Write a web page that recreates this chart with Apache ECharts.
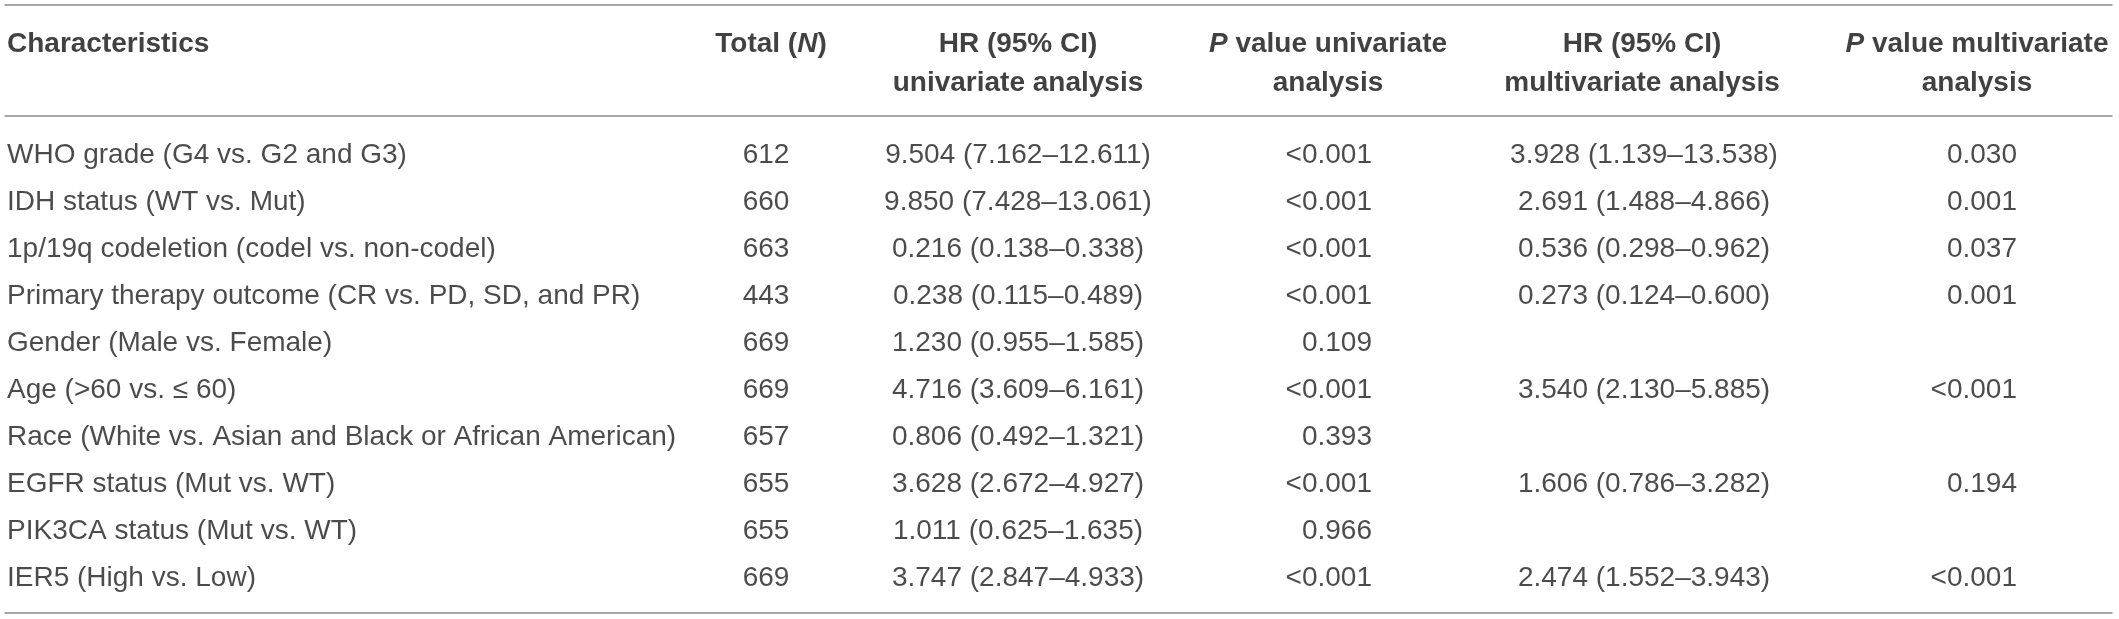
<!DOCTYPE html>
<html>
<head>
<meta charset="utf-8">
<script src="https://cdn.jsdelivr.net/npm/echarts@6/dist/echarts.min.js"></script>
<style>
  html, body { margin: 0; padding: 0; background: #fff; }
  #main { width: 2119px; height: 619px; }
</style>
</head>
<body>
<div id="main"></div>
<script>
// table content
const headers = [
  'Characteristics',
  'Total ({bi|N})',
  'HR (95% CI)\nunivariate analysis',
  '{bi|P} value univariate\nanalysis',
  'HR (95% CI)\nmultivariate analysis',
  '{bi|P} value multivariate\nanalysis'
];
const characteristics = [
  'WHO grade (G4 vs. G2 and G3)',
  'IDH status (WT vs. Mut)',
  '1p/19q codeletion (codel vs. non-codel)',
  'Primary therapy outcome (CR vs. PD, SD, and PR)',
  'Gender (Male vs. Female)',
  'Age (>60 vs. ≤ 60)',
  'Race (White vs. Asian and Black or African American)',
  'EGFR status (Mut vs. WT)',
  'PIK3CA status (Mut vs. WT)',
  'IER5 (High vs. Low)'
];
const totalN = [612, 660, 663, 443, 669, 669, 657, 655, 655, 669];
const hrUni = [
  '9.504 (7.162–12.611)', '9.850 (7.428–13.061)', '0.216 (0.138–0.338)',
  '0.238 (0.115–0.489)', '1.230 (0.955–1.585)', '4.716 (3.609–6.161)',
  '0.806 (0.492–1.321)', '3.628 (2.672–4.927)', '1.011 (0.625–1.635)',
  '3.747 (2.847–4.933)'
];
const pUni = ['<0.001', '<0.001', '<0.001', '<0.001', '0.109', '<0.001', '0.393', '<0.001', '0.966', '<0.001'];
const hrMulti = [
  '3.928 (1.139–13.538)', '2.691 (1.488–4.866)', '0.536 (0.298–0.962)',
  '0.273 (0.124–0.600)', '', '3.540 (2.130–5.885)', '', '1.606 (0.786–3.282)',
  '', '2.474 (1.552–3.943)'
];
const pMulti = ['0.030', '0.001', '0.037', '0.001', '', '<0.001', '', '0.194', '', '<0.001'];

// layout (px from table left edge)
const columns = [characteristics, totalN, hrUni, pUni, hrMulti, pMulti];
const bodyX = [2, 761, 1013, 1367, 1639, 2012];
const bodyAlign = ['left', 'center', 'center', 'right', 'center', 'right'];
const headX = [2, 766, 1013, 1323, 1637, 1972];
const headAlign = ['left', 'center', 'center', 'center', 'center', 'center'];
const headTop = 20;

const ruleStyle = { color: '#8a8a8a', width: 1.5 };
const bodyFont = { fontFamily: 'Liberation Sans', fontSize: 28, color: '#1e1e1e' };
const headFont = { fontFamily: 'Liberation Sans', fontSize: 28, fontWeight: 'bold', color: '#111', lineHeight: 39 };

const chart = echarts.init(document.getElementById('main'));

const hiddenAxis = {
  axisTick: { show: false },
  axisLabel: { show: false },
  splitLine: { show: false }
};

function rule(show) {
  return { show: show, onZero: false, lineStyle: ruleStyle };
}

const bodySeries = columns.map((col, c) => ({
  type: 'scatter',
  xAxisIndex: 1,
  yAxisIndex: 1,
  symbolSize: 0,
  itemStyle: { color: 'rgba(0,0,0,0)' },
  silent: true,
  data: col.map((v, r) => [bodyX[c], r, String(v)]),
  label: Object.assign({
    show: true,
    position: 'inside',
    align: bodyAlign[c],
    verticalAlign: 'middle',
    formatter: p => p.data[2]
  }, bodyFont)
}));

const headSeries = {
  type: 'scatter',
  xAxisIndex: 0,
  yAxisIndex: 0,
  symbolSize: 0,
  itemStyle: { color: 'rgba(0,0,0,0)' },
  silent: true,
  data: headers.map((h, c) => ({
    value: [headX[c], headTop, h],
    label: { align: headAlign[c] }
  })),
  label: Object.assign({
    show: true,
    position: 'inside',
    verticalAlign: 'top',
    formatter: p => p.data.value[2],
    rich: {
      bi: Object.assign({}, headFont, { fontStyle: 'italic' })
    }
  }, headFont)
};

chart.setOption({
  animation: false,
  grid: [
    { left: 5, right: 7, top: 5, height: 111 },
    { left: 5, right: 7, top: 116, height: 497 }
  ],
  xAxis: [
    Object.assign({ type: 'value', gridIndex: 0, min: 0, max: 2107, position: 'top', axisLine: rule(true) }, hiddenAxis),
    Object.assign({ type: 'value', gridIndex: 1, min: 0, max: 2107, position: 'top', axisLine: rule(true) }, hiddenAxis),
    Object.assign({ type: 'value', gridIndex: 1, min: 0, max: 2107, position: 'bottom', axisLine: rule(true) }, hiddenAxis)
  ],
  yAxis: [
    Object.assign({ type: 'value', gridIndex: 0, min: 0, max: 111, inverse: true, axisLine: rule(false) }, hiddenAxis),
    Object.assign({ type: 'value', gridIndex: 1, min: -0.83, max: 9.745, inverse: true, axisLine: rule(false) }, hiddenAxis)
  ],
  series: [headSeries].concat(bodySeries)
});
</script>
</body>
</html>
